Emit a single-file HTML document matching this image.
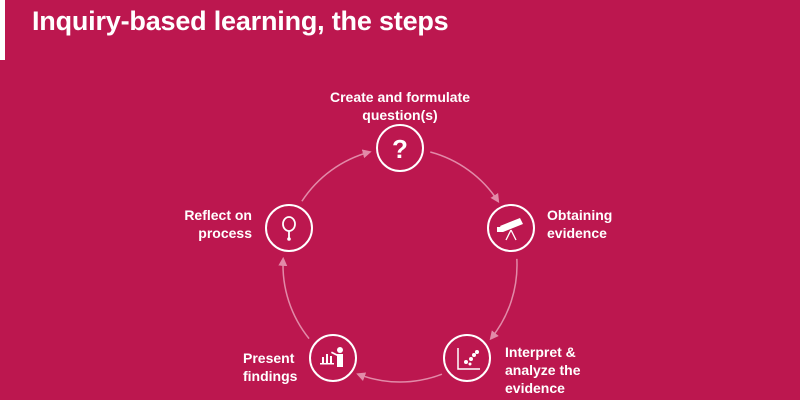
<!DOCTYPE html>
<html><head><style>
body{margin:0;width:800px;height:400px;background:#BC174F;overflow:hidden;position:relative;font-family:"Liberation Sans",sans-serif;color:#fff}
.bar{position:absolute;left:0;top:0;width:5px;height:60px;background:#fff}
h1{position:absolute;left:32px;top:6px;margin:0;font-size:27px;font-weight:bold;letter-spacing:-0.2px}
.t{position:absolute;font-size:14px;font-weight:bold;line-height:18px}
</style></head><body>
<div class="bar"></div>
<h1>Inquiry-based learning, the steps</h1>
<svg width="800" height="400" style="position:absolute;left:0;top:0">
<defs><marker id="a" markerWidth="9" markerHeight="9" refX="7" refY="4.5" orient="auto" markerUnits="userSpaceOnUse"><path d="M0,0 L9,4.5 L0,9 z" fill="#e28aa8"/></marker></defs>
<g id="arcs" fill="none" stroke="#e28aa8" stroke-width="1.5" marker-end="url(#a)"></g>
<g fill="none" stroke="#fff" stroke-width="2">
<circle cx="400" cy="148" r="23"/>
<circle cx="511" cy="228" r="23"/>
<circle cx="467" cy="358" r="23"/>
<circle cx="333" cy="358" r="23"/>
<circle cx="289" cy="228" r="23"/>
</g>
<text x="400" y="158" fill="#fff" font-size="26" font-weight="bold" text-anchor="middle" font-family="Liberation Sans">?</text>
<g fill="#fff"><path d="M500,226 l20,-8 l3,6 l-20,8 z"/><rect x="497" y="227" width="6" height="5"/><line x1="511" y1="230" x2="506" y2="240" stroke="#fff" stroke-width="1.3"/><line x1="511" y1="230" x2="516" y2="240" stroke="#fff" stroke-width="1.3"/></g>
<g stroke="#fff" stroke-width="1.5" fill="none"><path d="M458,348 v21 h22"/></g>
<g fill="#fff"><circle cx="466" cy="362" r="2"/><circle cx="471" cy="359" r="2"/><circle cx="474" cy="355" r="2"/><circle cx="477" cy="352" r="2"/><circle cx="470" cy="364" r="1.5"/></g>
<g fill="#fff"><circle cx="340" cy="350" r="3"/><rect x="337" y="354" width="6" height="13"/><path d="M337,356 l-6,-3 l0.8,-1.5 l6,3z"/><rect x="322" y="357" width="2" height="6"/><rect x="326" y="354" width="2" height="9"/><rect x="330" y="356" width="2" height="7"/><rect x="320" y="363" width="14" height="1.5"/></g>
<g stroke="#fff" stroke-width="1.8" fill="none"><ellipse cx="289" cy="224" rx="6" ry="7"/><line x1="289" y1="231" x2="289" y2="238"/></g>
<circle cx="289" cy="239" r="1.8" fill="#fff"/>
<script>
var cx=400,cy=265,R=117,angs=[-90,-18,54,126,198];
var g=document.getElementById('arcs');
for(var i=0;i<5;i++){var a1=(angs[i]+15)*Math.PI/180,a2=(angs[i]+72-15)*Math.PI/180;
var p=document.createElementNS('http://www.w3.org/2000/svg','path');
p.setAttribute('d','M'+(cx+R*Math.cos(a1))+','+(cy+R*Math.sin(a1))+' A'+R+','+R+' 0 0 1 '+(cx+R*Math.cos(a2))+','+(cy+R*Math.sin(a2)));
g.appendChild(p);}
</script>
</svg>
<div class="t" style="left:320px;top:88px;width:160px;text-align:center">Create and formulate<br>question(s)</div>
<div class="t" style="left:547px;top:206px">Obtaining<br>evidence</div>
<div class="t" style="left:505px;top:343px">Interpret &amp;<br>analyze the<br>evidence</div>
<div class="t" style="left:243px;top:349px">Present<br>findings</div>
<div class="t" style="left:142px;top:206px;width:110px;text-align:right">Reflect on<br>process</div>
</body></html>
